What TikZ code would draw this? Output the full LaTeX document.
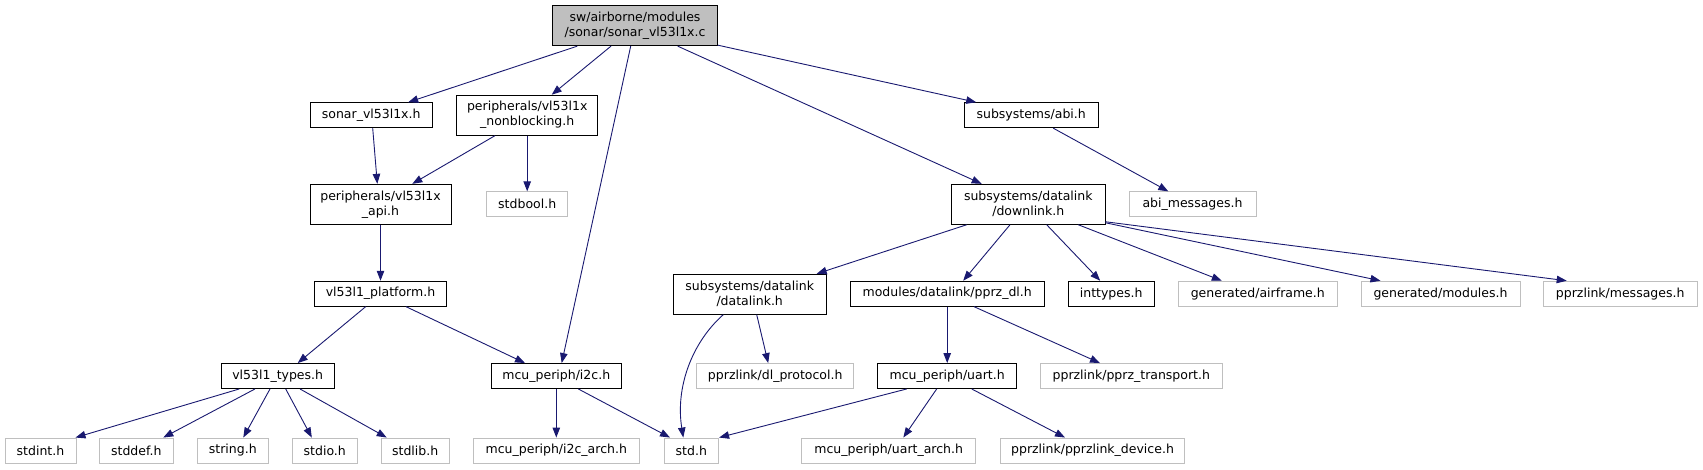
\documentclass[tikz,border=0pt]{standalone}
\usepackage{fontspec}
\setmainfont{DejaVu Sans}
\usetikzlibrary{arrows.meta,calc}
\definecolor{edgeblue}{HTML}{191970}
\definecolor{extgray}{HTML}{BFBFBF}

\begin{document}
\begin{tikzpicture}[
  x=1pt, y=-1pt,
  font=\fontsize{12.5}{15}\selectfont,
  hdr/.style={draw=black, line width=0.9pt, fill=white, minimum height=25, inner sep=0pt, align=center},
  hdrtwo/.style={hdr, minimum height=40},
  ext/.style={hdr, draw=extgray},
  srcfile/.style={hdrtwo, fill=extgray},
  dep/.style={-{Triangle[length=10pt,width=7.5pt]}, draw=edgeblue, line width=0.9pt}
]
\useasboundingbox (0,0) rectangle (1703,469);

% ---------- source file ----------
\node[srcfile, minimum width=164.6] (root) at (635,25.7) {sw/airborne/modules\\/sonar/sonar\_vl53l1x.c};

% ---------- first level ----------
\node[hdr, minimum width=121.7]     (sonar)  at (371.2,115.2) {sonar\_vl53l1x.h};
\node[hdrtwo, minimum width=141]    (nonblk) at (527.2,115.2) {peripherals/vl53l1x\\\_nonblocking.h};
\node[hdr, minimum width=134.3]     (abi)    at (1031.2,115.2) {subsystems/abi.h};

\node[hdrtwo, minimum width=141]    (api)      at (380.5,204.3)  {peripherals/vl53l1x\\\_api.h};
\node[ext, minimum width=81]        (stdbool)  at (527.2,204.3)  {stdbool.h};
\node[hdrtwo, minimum width=153.3]  (downlink) at (1028.3,204.3) {subsystems/datalink\\/downlink.h};
\node[ext, minimum width=127]       (abimsg)   at (1192.5,204.3) {abi\_messages.h};

% ---------- middle level ----------
\node[hdr, minimum width=132.4]    (platform) at (380.5,293.7)  {vl53l1\_platform.h};
\node[hdrtwo, minimum width=153.3] (datalink) at (749.7,294.2)  {subsystems/datalink\\/datalink.h};
\node[hdr, minimum width=193.7]    (pprzdl)   at (947.2,293.7)  {modules/datalink/pprz\_dl.h};
\node[hdr, minimum width=85.7]     (inttypes) at (1111.2,293.7) {inttypes.h};
\node[ext, minimum width=159]      (airframe) at (1257.8,293.7) {generated/airframe.h};
\node[ext, minimum width=159]      (genmods)  at (1440.5,293.7) {generated/modules.h};
\node[ext, minimum width=153.7]    (pprzmsgs) at (1620.2,293.7) {pprzlink/messages.h};

\node[hdr, minimum width=113.3] (types)     at (277.7,376)  {vl53l1\_types.h};
\node[hdr, minimum width=130.7] (i2c)       at (556.3,376)  {mcu\_periph/i2c.h};
\node[ext, minimum width=157]   (dlproto)   at (775.2,376)  {pprzlink/dl\_protocol.h};
\node[hdr, minimum width=139]   (uart)      at (947.2,376)  {mcu\_periph/uart.h};
\node[ext, minimum width=181.3] (transport) at (1131.3,376) {pprzlink/pprz\_transport.h};

% ---------- leaves ----------
\node[ext, minimum width=71]    (stdint)   at (40.5,450.5)   {stdint.h};
\node[ext, minimum width=74]    (stddef)   at (136.3,450.5)  {stddef.h};
\node[ext, minimum width=71]    (string)   at (232.8,450.5)  {string.h};
\node[ext, minimum width=65]    (stdio)    at (324.8,450.5)  {stdio.h};
\node[ext, minimum width=68.3]  (stdlib)   at (415.2,450.5)  {stdlib.h};
\node[ext, minimum width=166]   (i2carch)  at (556.3,450.5)  {mcu\_periph/i2c\_arch.h};
\node[ext, minimum width=54.7]  (std)      at (691.3,450.5)  {std.h};
\node[ext, minimum width=174]   (uartarch) at (888.7,450.5)  {mcu\_periph/uart\_arch.h};
\node[ext, minimum width=183.7] (device)   at (1092.5,450.5) {pprzlink/pprzlink\_device.h};

% ---------- includes of the source file ----------
\draw[dep] ($(root.south)+(-57.7,0)$) -- ($(sonar.north)+(37,0)$);
\draw[dep] ($(root.south)+(-24,0)$)   -- ($(nonblk.north)+(24.5,0)$);
\draw[dep] ($(root.south)+(-4.3,0)$)  -- ($(i2c.north)+(5.4,0)$);
\draw[dep] ($(root.south)+(42.7,0)$)  -- ($(downlink.north)+(-46.6,0)$);
\draw[dep] ($(root.south east)+(0,-1)$) -- ($(abi.north)+(-55,0)$);

% ---------- vl53l1x side ----------
\draw[dep] ($(sonar.south)+(1.5,0)$)   -- ($(api.north)+(-3.2,0)$);
\draw[dep] ($(nonblk.south)+(-32.2,0)$) -- ($(api.north)+(31.8,0)$);
\draw[dep] (nonblk.south) -- (stdbool.north);
\draw[dep] (api.south) -- (platform.north);
\draw[dep] ($(platform.south)+(-14.8,0)$) -- ($(types.north)+(20,0)$);
\draw[dep] ($(platform.south)+(25.5,0)$)  -- ($(i2c.north)+(-31.3,0)$);

\draw[dep] ($(types.south)+(-38.4,0)$) -- ($(stdint.north)+(35,0)$);
\draw[dep] ($(types.south)+(-22.7,0)$) -- ($(stddef.north)+(27,0)$);
\draw[dep] ($(types.south)+(-7.7,0)$)  -- ($(string.north)+(10.5,0)$);
\draw[dep] ($(types.south)+(8,0)$)     -- ($(stdio.north)+(-13,0)$);
\draw[dep] ($(types.south)+(22.3,0)$)  -- ($(stdlib.north)+(-28.5,0)$);

\draw[dep] (i2c.south) -- (i2carch.north);
\draw[dep] ($(i2c.south)+(22,0)$) -- ($(std.north)+(-21.3,0)$);

% ---------- abi / downlink side ----------
\draw[dep] ($(abi.south)+(22,0)$) -- ($(abimsg.north)+(-24.2,0)$);

\draw[dep] ($(downlink.south)+(-61.6,0)$) -- ($(datalink.north)+(67,0)$);
\draw[dep] ($(downlink.south)+(-18.3,0)$) -- ($(pprzdl.north)+(16,0)$);
\draw[dep] ($(downlink.south)+(18.4,0)$)  -- ($(inttypes.north)+(-11,0)$);
\draw[dep] ($(downlink.south)+(50,0)$)    -- ($(airframe.north)+(-36,0)$);
\draw[dep] ($(downlink.south east)+(0,-2)$) -- ($(genmods.north)+(-60,0)$);
\draw[dep] ($(downlink.south east)+(0,-3)$) -- ($(pprzmsgs.north)+(-53.5,0)$);

\draw[dep] ($(datalink.south)+(-26.4,0)$) .. controls ($(datalink.south)+(-58,28)$) and ($(std.north)+(-16,-50)$) .. ($(std.north)+(-8,0)$);
\draw[dep] ($(datalink.south)+(7,0)$) -- ($(dlproto.north)+(-7,0)$);

\draw[dep] (pprzdl.south) -- (uart.north);
\draw[dep] ($(pprzdl.south)+(26.8,0)$) -- ($(transport.north)+(-31.3,0)$);

\draw[dep] ($(uart.south)+(-40.5,0)$) -- (std.north east);
\draw[dep] ($(uart.south)+(-10.5,0)$) -- ($(uartarch.north)+(14.6,0)$);
\draw[dep] ($(uart.south)+(24.5,0)$)  -- ($(device.north)+(-27.5,0)$);

\end{tikzpicture}
\end{document}
